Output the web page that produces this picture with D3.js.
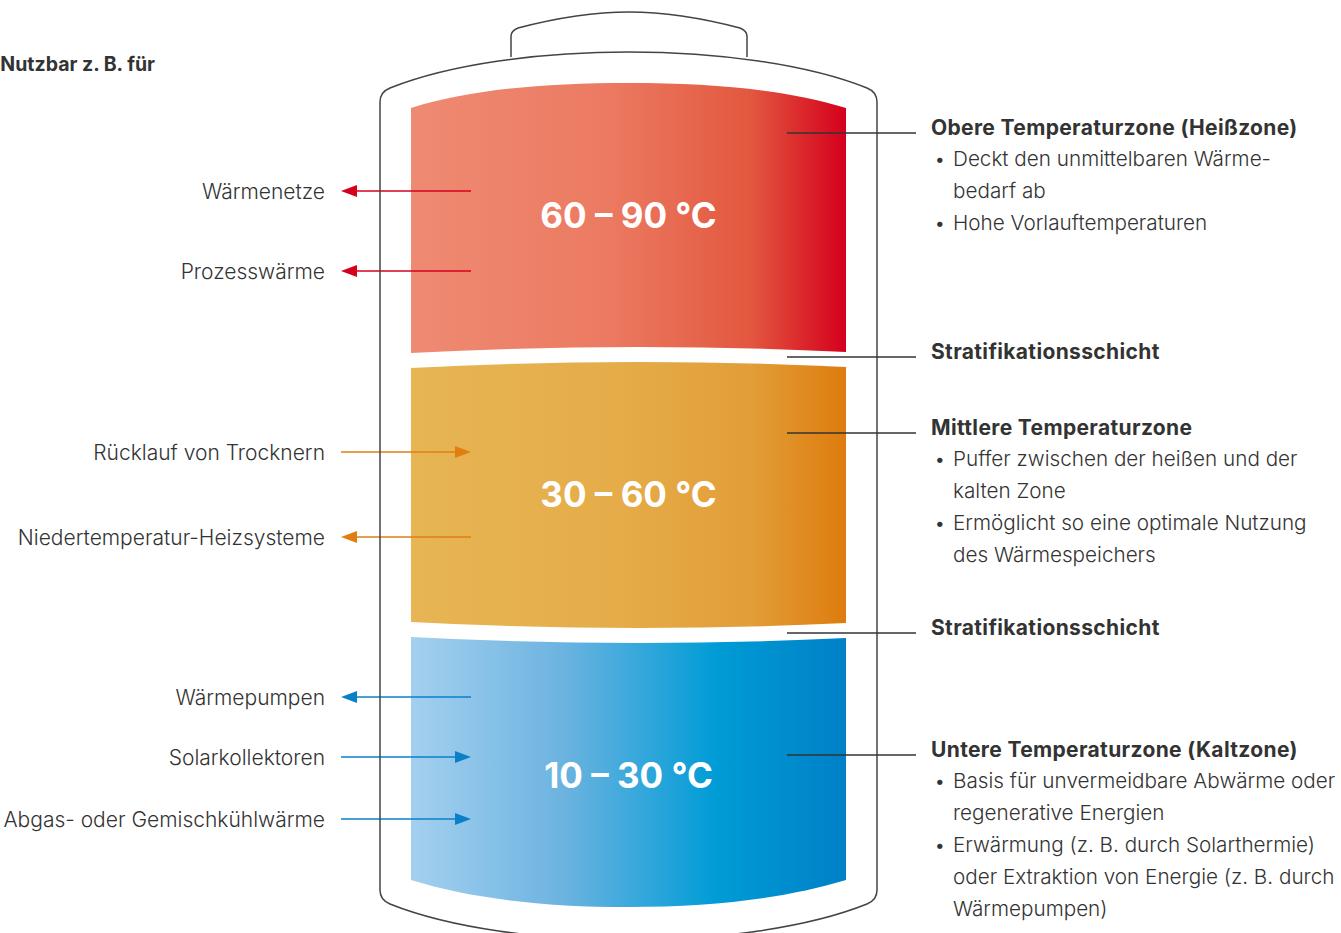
<!DOCTYPE html>
<html>
<head>
<meta charset="utf-8">
<script src="https://cdn.jsdelivr.net/npm/d3@7/dist/d3.min.js"></script>
<style>
  html, body { margin: 0; padding: 0; background: #fff; }
  svg { display: block; }
  text { font-family: Inter, "Noto Sans", sans-serif; fill: #333; }
</style>
</head>
<body>
<svg id="chart" width="1341" height="933"></svg>
<script>
// ---------------- data ----------------
const heading = "Nutzbar z. B. für";
const zoneNames = ["hot", "mid", "cold"];
const zoneLabels = ["60 – 90 °C", "30 – 60 °C", "10 – 30 °C"];
const zoneColors = [
  ["#ef8a72", "#ec7a62", "#e2583f", "#d5001c"],
  ["#e7b554", "#e5ad4a", "#e29e38", "#dd7c0e"],
  ["#a4d0ef", "#6cb3e0", "#009cd6", "#0080c7"]
];
const arrowColors = ["#d6001c", "#e07f10", "#0a80c8"];

const useLabels = ["Wärmenetze", "Prozesswärme", "Rücklauf von Trocknern",
  "Niedertemperatur-Heizsysteme", "Wärmepumpen", "Solarkollektoren",
  "Abgas- oder Gemischkühlwärme"];
const useZone = [0, 0, 1, 1, 2, 2, 2];
const useDirection = ["out", "out", "in", "out", "out", "in", "in"];

const noteTitles = ["Obere Temperaturzone (Heißzone)", "Stratifikationsschicht",
  "Mittlere Temperaturzone", "Stratifikationsschicht", "Untere Temperaturzone (Kaltzone)"];
const noteBullets = [
  [["Deckt den unmittelbaren Wärme-", "bedarf ab"], ["Hohe Vorlauftemperaturen"]],
  [],
  [["Puffer zwischen der heißen und der", "kalten Zone"], ["Ermöglicht so eine optimale Nutzung", "des Wärmespeichers"]],
  [],
  [["Basis für unvermeidbare Abwärme oder", "regenerative Energien"],
   ["Erwärmung (z. B. durch Solarthermie)", "oder Extraktion von Energie (z. B. durch", "Wärmepumpen)"]]
];

// ---------------- layout ----------------
const svg = d3.select("#chart");
// x scale in tank-relative units (0 = left inner edge of zones, 1 = right)
const x = d3.scaleLinear().domain([0, 1]).range([411, 846]);

const defs = svg.append("defs");
zoneColors.forEach((cols, i) => {
  const g = defs.append("linearGradient").attr("id", "grad" + i)
    .attr("x1", "0%").attr("x2", "100%").attr("y1", "0%").attr("y2", "0%");
  const stops = i === 2 ? [0, 0.35, 0.7, 1] : [0, 0.45, 0.78, 1];
  cols.forEach((c, j) => g.append("stop").attr("offset", stops[j]).attr("stop-color", c));
});

// zone shapes
const xl = x(0), xr = x(1), xm = (xl + xr) / 2;
const zonePaths = [
  `M${xl},353 L${xl},108 C470,90 540,83 ${xm},83 C716,83 786,90 ${xr},108 L${xr},352 Q${xm},341.5 ${xl},353 Z`,
  `M${xl},368 Q${xm},356.5 ${xr},367 L${xr},623 Q${xm},633.5 ${xl},622 Z`,
  `M${xl},637 Q${xm},648.5 ${xr},638 L${xr},880 C786,898 716,907 ${xm},907 C540,907 470,898 ${xl},880 Z`
];
svg.selectAll("path.zone").data(zoneNames).join("path")
  .attr("class", "zone")
  .attr("d", (d, i) => zonePaths[i])
  .attr("fill", (d, i) => `url(#grad${i})`);

// zone labels
const zoneCenters = [215, 494, 775];
svg.selectAll("text.zl").data(zoneLabels).join("text")
  .attr("class", "zl")
  .attr("x", xm).attr("y", (d, i) => zoneCenters[i])
  .attr("dy", "0.36em")
  .attr("text-anchor", "middle")
  .style("fill", "#fff").style("font-weight", 700).style("font-size", "35px")
  .text(d => d);

// tank outline
const tank = "M380,890 L380,102 Q380,92 390,88 C450,64 540,52 628.5,52 C717,52 807,64 867,88 Q877,92 877,102 " +
  "L877,890 Q877,900 867,904 C807,928 717,940 628.5,940 C540,940 450,928 390,904 Q380,900 380,890 Z";
const cap = "M511,57 L511,36 Q511,31 518,28 C560,17 600,12 629,12 C658,12 698,17 740,28 Q747,31 747,36 L747,57";

// arrows
const useY = [191, 271, 452, 537, 697, 757, 819];
const aLeft = 341, aRight = 471, head = 16, halfH = 6;
const arrows = svg.append("g");
useLabels.forEach((lab, i) => {
  const yy = useY[i], col = arrowColors[useZone[i]];
  const g = arrows.append("g");
  if (useDirection[i] === "out") {
    g.append("line").attr("x1", aLeft + head - 1).attr("x2", aRight).attr("y1", yy).attr("y2", yy)
      .attr("stroke", col).attr("stroke-width", 1.3);
    g.append("path").attr("d", `M${aLeft},${yy} L${aLeft + head},${yy - halfH} L${aLeft + head},${yy + halfH} Z`).attr("fill", col);
  } else {
    g.append("line").attr("x1", aLeft).attr("x2", aRight - head + 1).attr("y1", yy).attr("y2", yy)
      .attr("stroke", col).attr("stroke-width", 1.3);
    g.append("path").attr("d", `M${aRight},${yy} L${aRight - head},${yy - halfH} L${aRight - head},${yy + halfH} Z`).attr("fill", col);
  }
});

svg.append("path").attr("d", tank).attr("fill", "none").attr("stroke", "#444").attr("stroke-width", 1.5);
svg.append("path").attr("d", cap).attr("fill", "none").attr("stroke", "#444").attr("stroke-width", 1.5);

svg.selectAll("text.use").data(useLabels).join("text")
  .attr("class", "use")
  .attr("x", 325).attr("y", (d, i) => useY[i]).attr("dy", "0.36em")
  .attr("text-anchor", "end")
  .style("font-size", "21px").style("font-weight", 300)
  .text(d => d);

svg.append("text").attr("x", 155).attr("y", 64).attr("dy", "0.36em")
  .attr("text-anchor", "end").style("font-size", "19.5px").style("font-weight", 700)
  .text(heading);

// notes on the right
const noteY = [127, 351, 427, 627, 749];
const lineH = 32;
noteTitles.forEach((t, i) => {
  const ty = noteY[i];
  svg.append("line").attr("x1", 787).attr("x2", 916).attr("y1", ty + 6).attr("y2", ty + 6)
    .attr("stroke", "#333").attr("stroke-width", 1.3);
  svg.append("text").attr("x", 931).attr("y", ty).attr("dy", "0.36em")
    .style("font-size", "21px").style("font-weight", 700).style("letter-spacing", "0.35px").text(t);
  let row = 1;
  noteBullets[i].forEach(b => {
    svg.append("text").attr("x", 935).attr("y", ty + row * lineH).attr("dy", "0.36em")
      .style("font-size", "17px").style("font-weight", 400).text("•");
    b.forEach(line => {
      svg.append("text").attr("x", 953).attr("y", ty + row * lineH).attr("dy", "0.36em")
        .style("font-size", "20.7px").style("font-weight", 300).text(line);
      row++;
    });
  });
});
</script>
</body>
</html>
